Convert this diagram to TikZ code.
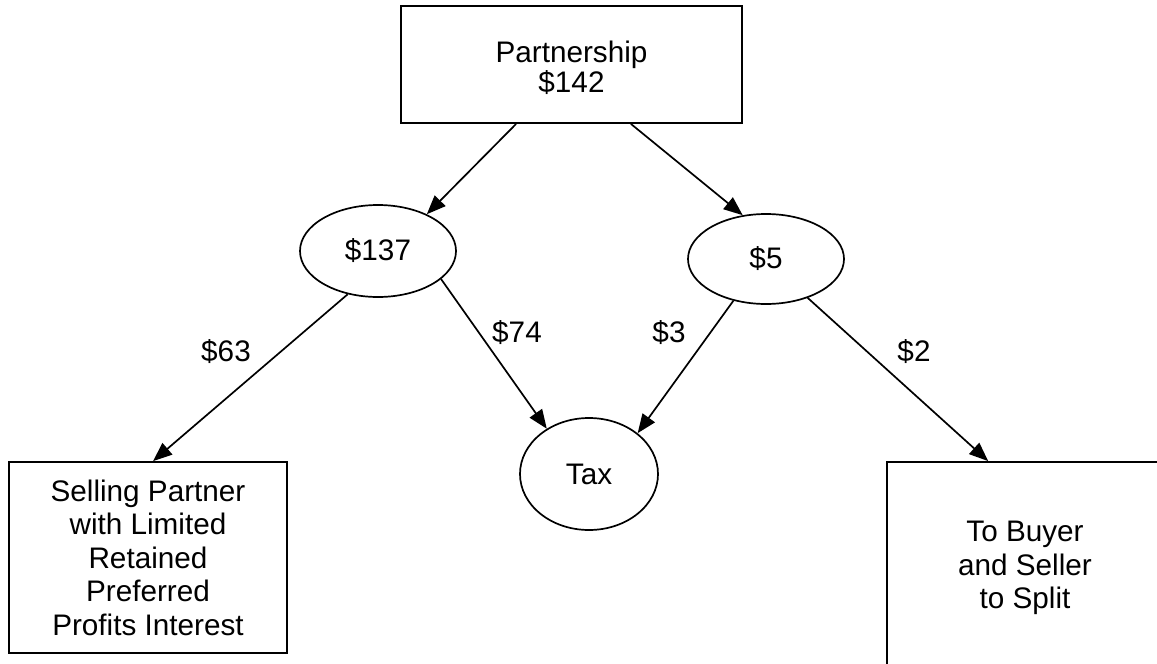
\documentclass[tikz,border=0pt]{standalone}
\usepackage{fontspec}
\setmainfont{Liberation Sans}
\usetikzlibrary{shapes.geometric,arrows.meta}
\begin{document}
\begin{tikzpicture}[x=1pt,y=-1pt,
  every node/.style={font=\fontsize{29.7}{33.5}\selectfont},
  boxnode/.style={draw, line width=1.8pt, rectangle, inner sep=0pt, align=center},
  ovalnode/.style={draw, line width=1.7pt, ellipse, inner sep=0pt, align=center},
  lbl/.style={inner sep=0pt},
  flow/.style={line width=1.7pt, -{Triangle[length=19pt,width=15pt]}}]
\useasboundingbox (0,0) rectangle (1157,664);
\clip (0,0) rectangle (1157,664);
\fill[white] (0,0) rectangle (1157,664);

\node[boxnode, minimum width=341pt, minimum height=117pt] (P) at (571.5,64.5) {};
\node[lbl, align=center, font=\fontsize{29.7}{30.5}\selectfont] (Ptext) at (571.5,68) {Partnership\\\$142};
\node[ovalnode, minimum width=156pt, minimum height=92pt] (A) at (378,251) {\$137};
\node[ovalnode, minimum width=156pt, minimum height=90pt] (B) at (766,259) {\$5};
\node[ovalnode, minimum width=138pt, minimum height=112pt] (T) at (589,474) {Tax};
\node[boxnode, minimum width=278pt, minimum height=191pt] (L) at (148,557.5) {Selling Partner\\with Limited\\Retained\\Preferred\\Profits Interest};
\node[boxnode, minimum width=276pt, minimum height=212pt] (R) at (1025,568) {To Buyer\\and Seller\\to Split};

\node[lbl] (l63) at (226,352) {\$63};
\node[lbl] (l74) at (517,333) {\$74};
\node[lbl] (l3) at (669,333) {\$3};
\node[lbl] (l2) at (914,352) {\$2};

\draw[flow] (P.227.6) -- (A.37);
\draw[flow] (P.315) -- (B.118.6);
\draw[flow] (A.235) -- (L.87);
\draw[flow] (A.336) -- (T.133);
\draw[flow] (B.232.5) -- (T.40);
\draw[flow] (B.317) -- (R.109.7);
\end{tikzpicture}
\end{document}
